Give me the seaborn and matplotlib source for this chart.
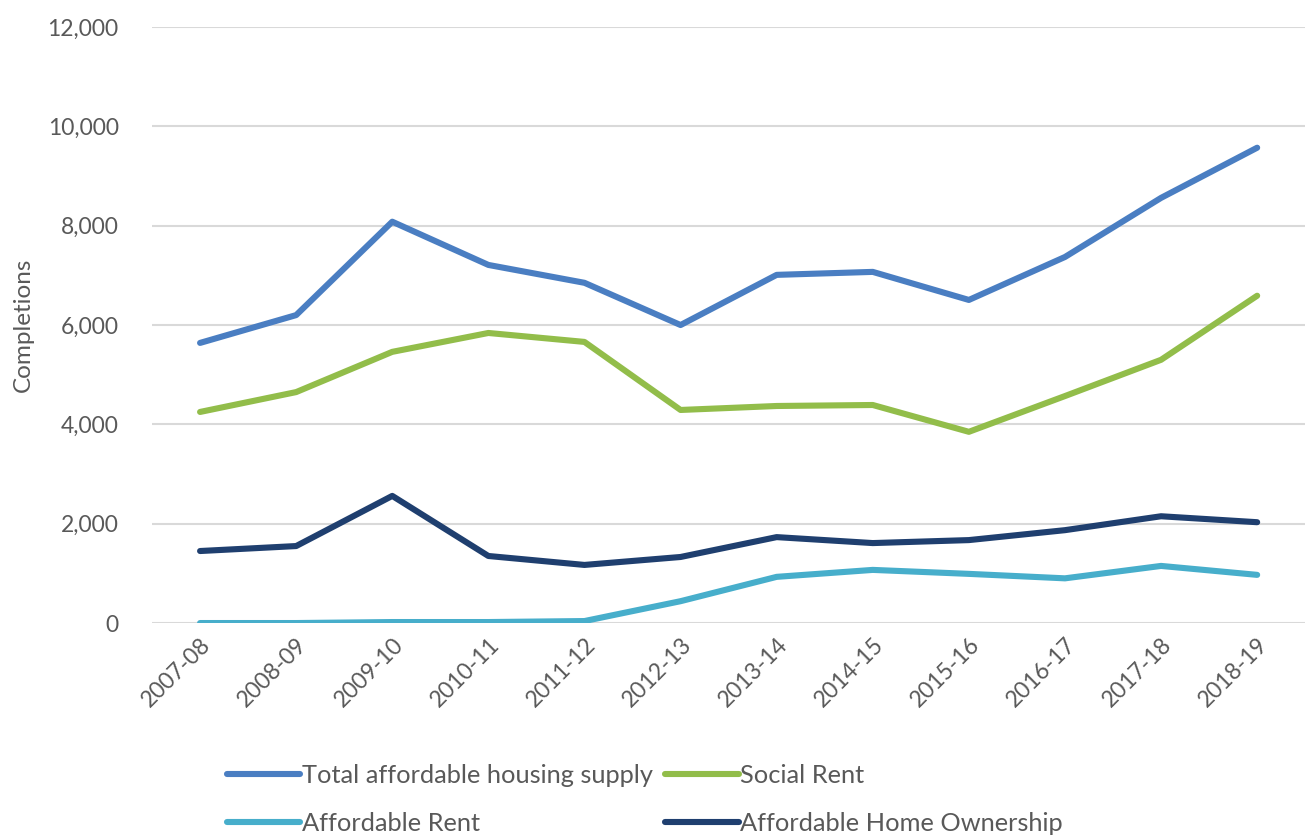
import matplotlib
matplotlib.use("Agg")
import matplotlib.pyplot as plt
import pandas as pd
import seaborn as sns

years = ["2007-08", "2008-09", "2009-10", "2010-11", "2011-12", "2012-13",
         "2013-14", "2014-15", "2015-16", "2016-17", "2017-18", "2018-19"]
total_supply = [5640, 6200, 8080, 7210, 6850, 6000, 7010, 7070, 6505, 7370, 8560, 9570]
social_rent = [4250, 4650, 5460, 5840, 5660, 4290, 4370, 4390, 3850, 4570, 5300, 6590]
affordable_rent = [0, 0, 20, 20, 40, 440, 930, 1070, 990, 900, 1150, 970]
home_ownership = [1450, 1550, 2560, 1350, 1170, 1330, 1730, 1610, 1670, 1870, 2150, 2030]

series_names = ["Total affordable housing supply", "Affordable Rent",
                "Social Rent", "Affordable Home Ownership"]
series_vals = [total_supply, affordable_rent, social_rent, home_ownership]
colors = {"Total affordable housing supply": "#4a7ec2",
          "Social Rent": "#92bd4a",
          "Affordable Rent": "#47aecb",
          "Affordable Home Ownership": "#1f3f6f"}

rows = []
for name, vals in zip(series_names, series_vals):
    for yr, v in zip(years, vals):
        rows.append({"year": yr, "value": v, "series": name})
df = pd.DataFrame(rows)

sns.set_style("white")
plt.rcParams["font.family"] = ["Lato", "DejaVu Sans"]

fig = plt.figure(figsize=(13.06, 8.39), dpi=100)
ax = fig.add_axes([0.1164, 0.2574, 0.883, 0.7104])

sns.lineplot(data=df, x="year", y="value", hue="series", hue_order=series_names,
             palette=colors, linewidth=4.4, ax=ax, sort=False)

ax.set_xlim(-0.5, len(years) - 0.5)
ax.set_ylim(0, 12000)
ax.set_yticks(range(0, 12001, 2000))
ax.yaxis.set_major_formatter(matplotlib.ticker.FuncFormatter(lambda v, p: f"{int(v):,}"))
ax.grid(axis="y", color="#d9d9d9", linewidth=1.5)
ax.set_axisbelow(True)
for s in ax.spines.values():
    s.set_visible(False)
ax.tick_params(axis="both", length=0, labelsize=16.5, labelcolor="#595959")
ax.tick_params(axis="y", pad=24)
ax.tick_params(axis="x", pad=8)
for lab in ax.get_xticklabels():
    lab.set_rotation(45)
    lab.set_ha("right")
    lab.set_rotation_mode("anchor")
ax.set_xlabel("")
ax.set_ylabel("Completions", fontsize=17.5, color="#595959", labelpad=10)

h, l = ax.get_legend_handles_labels()
ax.legend(h, l, loc="upper left", bbox_to_anchor=(0.045, -0.198), ncol=2,
          frameon=False, fontsize=18.3, labelcolor="#595959", handlelength=2.9,
          handletextpad=0.05, columnspacing=0.5, labelspacing=1.0)

fig.savefig("out.png", dpi=100)
